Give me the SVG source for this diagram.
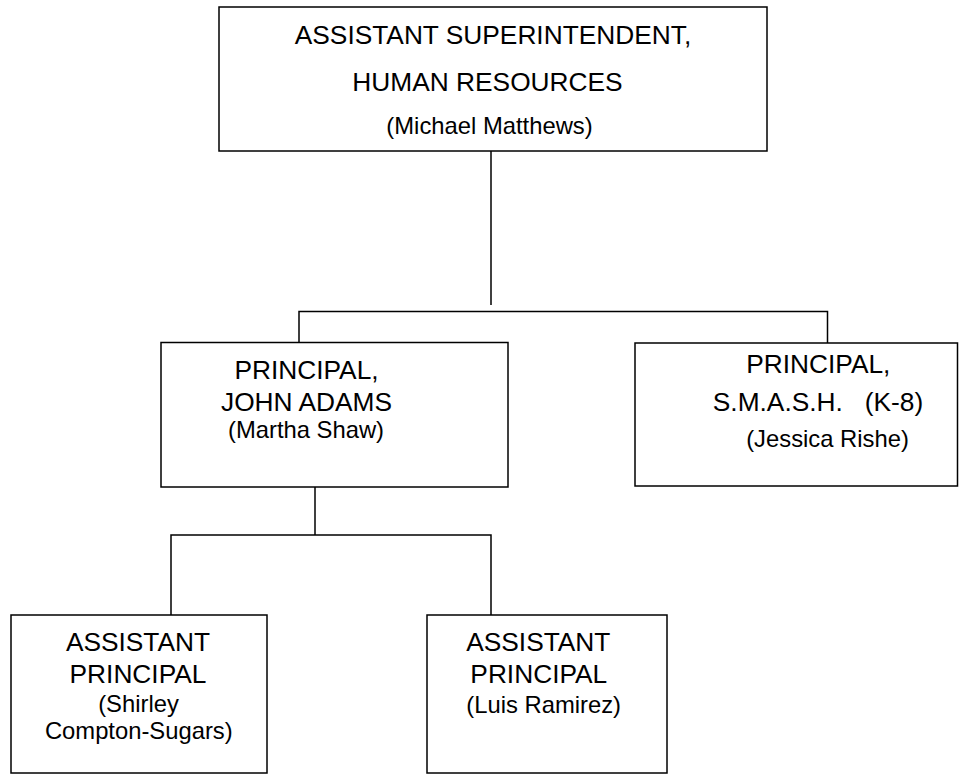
<svg xmlns="http://www.w3.org/2000/svg" width="960" height="775" viewBox="0 0 960 775">
<style>
.box{fill:#fff;stroke:#000;stroke-width:1.5}
.ln{fill:none;stroke:#000;stroke-width:1.5}
text{font-family:"Liberation Sans",Arial,sans-serif;fill:#000;text-anchor:middle}
.t{font-size:26.3px}
.n{font-size:23.8px}
</style>
<rect width="960" height="775" fill="#fff"/>
<g id="connectors">
<path class="ln" d="M491,151 V305"/>
<path class="ln" d="M299,342.5 V311.5 H827.5 V343"/>
<path class="ln" d="M315,487 V535"/>
<path class="ln" d="M171,615 V535 H491 V615"/>
</g>
<g id="asst-superintendent">
<rect class="box" x="219" y="7" width="548" height="144"/>
<text class="t" x="493" y="44">ASSISTANT SUPERINTENDENT,</text>
<text class="t" x="487.5" y="91">HUMAN RESOURCES</text>
<text class="n" x="489.5" y="134">(Michael Matthews)</text>
</g>
<g id="principal-john-adams">
<rect class="box" x="161" y="342.5" width="347" height="144.5"/>
<text class="t" x="306.5" y="379">PRINCIPAL,</text>
<text class="t" x="306.5" y="410.5">JOHN ADAMS</text>
<text class="n" x="306" y="438">(Martha Shaw)</text>
</g>
<g id="principal-smash">
<rect class="box" x="635" y="343" width="322.5" height="143"/>
<text class="t" x="818.3" y="373">PRINCIPAL,</text>
<text class="t" x="818" y="411" xml:space="preserve" style="white-space:pre">S.M.A.S.H.   (K-8)</text>
<text class="n" x="827.5" y="447">(Jessica Rishe)</text>
</g>
<g id="asst-principal-compton-sugars">
<rect class="box" x="11" y="615" width="256" height="158"/>
<text class="t" x="138" y="651">ASSISTANT</text>
<text class="t" x="138" y="682.5">PRINCIPAL</text>
<text class="n" x="138.5" y="711.5">(Shirley</text>
<text class="n" x="138.8" y="739">Compton-Sugars)</text>
</g>
<g id="asst-principal-ramirez">
<rect class="box" x="427" y="615" width="240" height="158"/>
<text class="t" x="538.3" y="651">ASSISTANT</text>
<text class="t" x="538.8" y="683">PRINCIPAL</text>
<text class="n" x="543.7" y="713">(Luis Ramirez)</text>
</g>
</svg>
